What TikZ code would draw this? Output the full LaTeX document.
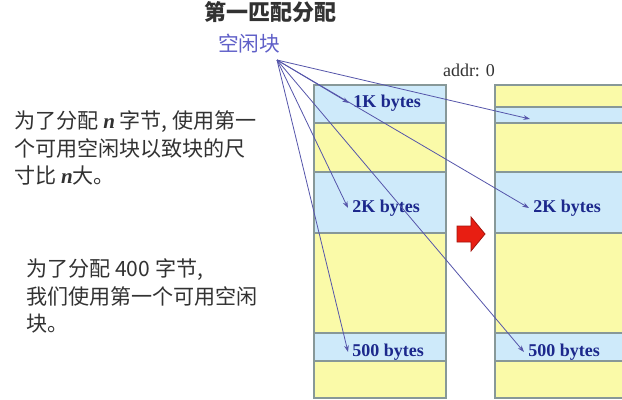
\documentclass[tikz,border=0pt]{standalone}
\usepackage{fontspec}
\setmainfont{Liberation Serif}
\newfontfamily\cjk{Noto Sans CJK SC}
\usetikzlibrary{arrows.meta}

\definecolor{freeblue}{RGB}{206,234,250}
\definecolor{usedyellow}{RGB}{250,250,168}
\definecolor{bandline}{RGB}{135,152,152}
\definecolor{ptrline}{RGB}{85,85,170}
\definecolor{lblnavy}{RGB}{28,40,140}
\definecolor{freetitle}{RGB}{95,95,200}
\definecolor{notegray}{RGB}{50,50,50}
\definecolor{bigred}{RGB}{232,30,18}

\tikzset{
  freeband/.style={fill=freeblue,draw=bandline,line width=1pt},
  usedband/.style={fill=usedyellow,draw=bandline,line width=1pt},
  ptr/.style={draw=ptrline,line width=0.6pt,-{Stealth[length=5pt,width=3.5pt]}},
  sizelbl/.style={anchor=west,inner sep=3pt,text=lblnavy,font=\fontsize{13.5}{16}\selectfont\bfseries},
  note/.style={anchor=west,inner sep=0.75pt,align=left,text=notegray,font=\cjk\fontsize{15.8}{20.6}\selectfont}
}

\begin{document}
\begin{tikzpicture}[x=0.75pt,y=0.75pt,yscale=-1,xscale=1]
\clip (0,0) rectangle (622,400);
\fill [white] (0,0) rectangle (622,400);

% Left column
\draw [freeband] (314,85) rectangle (446,123);
\draw [usedband] (314,123) rectangle (446,172);
\draw [freeband] (314,172) rectangle (446,233);
\draw [usedband] (314,233) rectangle (446,333);
\draw [freeband] (314,333) rectangle (446,361);
\draw [usedband] (314,361) rectangle (446,398);
% Right column
\draw [usedband] (495,85) rectangle (628,107);
\draw [freeband] (495,107) rectangle (628,123);
\draw [usedband] (495,123) rectangle (628,172);
\draw [freeband] (495,172) rectangle (628,233);
\draw [usedband] (495,233) rectangle (628,333);
\draw [freeband] (495,333) rectangle (628,361);
\draw [usedband] (495,361) rectangle (628,398);

% Text Node
\node (title) [text=notegray,font=\cjk\fontsize{16.5}{20}\selectfont\bfseries] at (270,12) {第一匹配分配};
% Text Node
\node (freelist) [text=freetitle,font=\cjk\fontsize{15.5}{20}\selectfont] at (249,44) {空闲块};
% Text Node
\node (addr) [text=notegray,font=\fontsize{13.5}{16}\selectfont] at (469,70) {addr: 0};
% Text Node
\node (k1) [sizelbl] at (349,103) {1K bytes};
% Text Node
\node (k2a) [sizelbl] at (348,208) {2K bytes};
% Text Node
\node (k2b) [sizelbl] at (529,208) {2K bytes};
% Text Node
\node (h5a) [sizelbl] at (348,352) {500 bytes};
% Text Node
\node (h5b) [sizelbl] at (524,352) {500 bytes};
% Text Node
\node (rule) [note] at (13,148) {为了分配 {\fontspec{Liberation Serif}\bfseries\itshape n} 字节, 使用第一\\个可用空闲块以致块的尺\\寸比 {\fontspec{Liberation Serif}\bfseries\itshape n}大。};
% Text Node
\node (ask) [note] at (25,296) {为了分配 400 字节,\\我们使用第一个可用空闲\\块。};

\coordinate (src) at (277,60);
\coordinate (gap) at (530,119);

% Connection
\draw [ptr] (src) -- (k1.west);
% Connection
\draw [ptr] (src) -- (gap);
% Connection
\draw [ptr] (src) -- (k2a.west);
% Connection
\draw [ptr] (src) -- (k2b.west);
% Connection
\draw [ptr] (src) -- (h5a.west);
% Connection
\draw [ptr] (src) -- (h5b.west);

% Red arrow
\draw [fill=bigred,draw=bigred!70!black,line width=0.6pt] (457,226) -- (471,226) -- (471,217) -- (485,234) -- (471,251) -- (471,242) -- (457,242) -- cycle;

\end{tikzpicture}
\end{document}
